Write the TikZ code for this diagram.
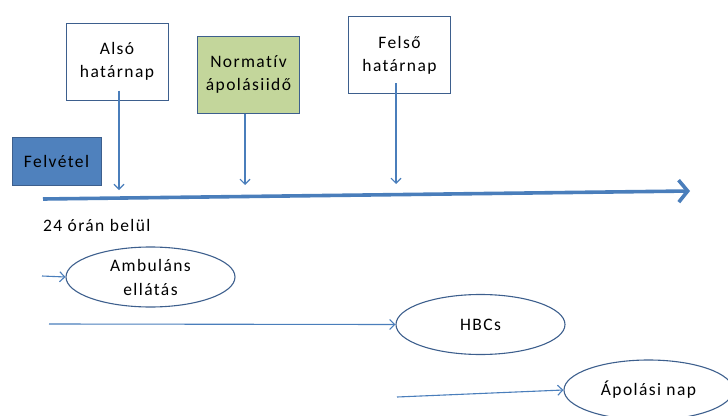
\documentclass[tikz,border=0pt]{standalone}
\usepackage{fontspec}
\setmainfont{Carlito}
\newfontfamily\labelfont[LetterSpace=8, Ligatures={NoCommon}, RawFeature={-liga;-clig;-calt}]{Carlito}
\usetikzlibrary{arrows.meta,shapes.geometric}

\definecolor{lineblue}{HTML}{4A7EBB}
\definecolor{edgeblue}{HTML}{3D5F8D}
\definecolor{boxgreen}{HTML}{C3D69B}
\definecolor{fillblue}{HTML}{4F81BD}

\tikzset{
  box/.style={draw=edgeblue, line width=1, minimum width=102, minimum height=77,
    align=center, inner sep=0, font=\labelfont\fontsize{17.5}{23}\selectfont},
  oval/.style={ellipse, draw=edgeblue, line width=1.1, minimum width=169, minimum height=60,
    align=center, inner sep=0, font=\labelfont\fontsize{17.5}{24}\selectfont},
  link/.style={lineblue, line width=1.1, -{Straight Barb[length=5,width=10]}},
}

\begin{document}
\begin{tikzpicture}[x=1pt, y=-1pt]
      \useasboundingbox (0,0) rectangle (728,415);

      \node[box] (also) at (117, 61.5) {Alsó\\határnap};
      \node[box, fill=boxgreen] (normativ) at (248.5, 74.5) {Normatív\\ápolásiidő};
      \node[box] (felso) at (399.5, 55) {Felső\\határnap};
      \node[box, fill=fillblue, minimum width=89, minimum height=48] (felvetel) at (56.5, 161) {Felvétel};

      \coordinate (ax0) at (43, 199);
      \coordinate (ax1) at (690, 191);
      \draw[lineblue, line width=3.6, -{Straight Barb[length=9,width=22]}] (ax0) -- (ax1);

      \coordinate (alsoend) at (119, 190);
      \coordinate (normend) at (245, 185);
      \coordinate (felsoend) at (396, 184);
      \draw[link] ([xshift=2, yshift=10]also.south) -- (alsoend);
      \draw[link] (normativ.south -| normend) -- (normend);
      \draw[link] ([yshift=11]felso.south -| felsoend) -- (felsoend);

      \node[anchor=west, inner sep=0, font=\labelfont\fontsize{17.5}{23}\selectfont] (belul) at (43, 225) {24 órán belül};

      \node[oval] (ambulans) at (150.5, 277) {Ambuláns\\ellátás};
      \node[oval] (hbcs) at (480.5, 324.5) {HBCs};
      \node[oval] (apolasi) at (648.5, 390) {Ápolási nap};

      \coordinate (ambstart) at (42, 276);
      \coordinate (hbcstart) at (49, 324);
      \coordinate (apostart) at (397, 397);
      \draw[link] (ambstart) -- (ambulans.west);
      \draw[link] (hbcstart) -- (hbcs.west);
      \draw[link] (apostart) -- (apolasi.west);
    \end{tikzpicture}
\end{document}
